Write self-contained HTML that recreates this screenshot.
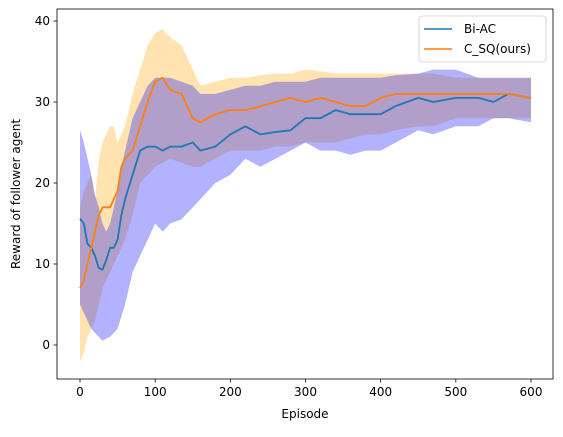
<!DOCTYPE html>
<html><head><meta charset="utf-8"><style>
body{margin:0;background:#fff;font-family:"Liberation Sans",sans-serif}
svg text{font-family:"DejaVu Sans","Liberation Sans",sans-serif;font-size:12px;fill:#000}
</style></head><body>
<svg id="chart" width="563" height="432" viewBox="0 0 563 432" xmlns="http://www.w3.org/2000/svg"></svg>
<script>
const episodes=[0,5,10,15,20,25,30,35,40,45,50,55,60,70,80,90,100,110,120,135,150,160,180,200,220,240,260,280,300,320,340,360,380,400,420,450,470,500,530,550,570,600];
const biacMean=[15.6,15,12.5,12,11,9.5,9.3,10.5,12,12,13,16,18,21,24,24.5,24.5,24,24.5,24.5,25,24,24.5,26,27,26,26.3,26.5,28,28,29,28.5,28.5,28.5,29.5,30.5,30,30.5,30.5,30,31,30.5];
const csqMean=[7,8,10,12,14,16,17,17,17,18,19,22,23,24,27,30,32.5,33,31.5,31,28,27.5,28.5,29,29,29.5,30,30.5,30,30.5,30,29.5,29.5,30.5,31,31,31,31,31,31,31,30.5];
const biacLo=[5,4,3,2,1.5,1,0.5,0.8,1,1.5,2,3.5,5,9,11,13,15,14,15,15.5,17,18,20,21,23,22,23,24,25,24,24,23.5,24,24,25,26.5,26,27,27,28,28,27.5];
const biacHi=[26.5,25,23,21,18.5,17,15,14,15,17,19,22,24,28,30,32,33,33,33,32.5,32,31,31,31.5,32,32,32.5,32.5,32.5,33,33,33,33,33,33.3,33.5,34,34,33,33,33,33];
const csqLo=[-2,-1,1,2,3,5,7,8,9,10,11,12,13,16,20,21,22,22.5,23,22.5,22,22,23,24,24,24,24.5,24.5,25,25,25,25.5,26,26,26.5,27,27,28,28,28,28,28];
const csqHi=[17,19,20,21,18,23,25,26,27,27,25,26,27,31,34,37,38.5,39,38,37,34,32,32.5,33,33,33.3,33.5,33.5,34,33.8,33.5,33.5,33.5,33.5,33.5,33.5,33.5,33,33,33,33,33];
const xTicks=[0,100,200,300,400,500,600];
const yTicks=[0,10,20,30,40];

const NS="http://www.w3.org/2000/svg";
const svg=document.getElementById('chart');
const L=57,R=553,T=9,B=379;
const xs=v=>80+v*(531-80)/600;
const ys=v=>345-v*(345-21)/40;
function mk(t,a){const e=document.createElementNS(NS,t);for(const k in a)e.setAttribute(k,a[k]);svg.appendChild(e);return e;}
function band(lo,hi,fill,name){
  let d='M'+episodes.map((x,i)=>xs(x).toFixed(1)+','+ys(hi[i]).toFixed(1)).join('L');
  for(let i=episodes.length-1;i>=0;i--)d+='L'+xs(episodes[i]).toFixed(1)+','+ys(lo[i]).toFixed(1);
  const p=mk('path',{d:d+'Z',fill:fill,'fill-opacity':0.3,stroke:'none'});
  
  
}
function line(m,col,name){
  const p=mk('polyline',{points:episodes.map((x,i)=>xs(x).toFixed(1)+','+ys(m[i]).toFixed(1)).join(' '),fill:'none',stroke:col,'stroke-width':1.8,'stroke-linejoin':'round'});
  
  
}
band(csqLo,csqHi,'#ffa500','csq-band');
band(biacLo,biacHi,'#0000ff','biac-band');
line(biacMean,'#1f77b4','biac-line');
line(csqMean,'#ff7f0e','csq-line');
const frame=mk('rect',{x:L,y:T,width:R-L,height:B-T,fill:'none',stroke:'#000','stroke-width':0.8});


xTicks.forEach(v=>{
  mk('line',{x1:xs(v),x2:xs(v),y1:B,y2:B+3.5,stroke:'#000','stroke-width':0.8});
  const t=mk('text',{x:xs(v),y:B+17,'text-anchor':'middle'});t.textContent=v;
  
  
});
yTicks.forEach(v=>{
  mk('line',{x1:L-3.5,x2:L,y1:ys(v),y2:ys(v),stroke:'#000','stroke-width':0.8});
  const t=mk('text',{x:L-7,y:ys(v)+4,'text-anchor':'end'});t.textContent=v;
  
  
});
const xt=mk('text',{x:(L+R)/2,y:418,'text-anchor':'middle'});xt.textContent='Episode';


const yt=mk('text',{x:20,y:194,'text-anchor':'middle',transform:'rotate(-90 20 194)'});yt.textContent='Reward of follower agent';


const lg=mk('rect',{x:419,y:16,width:127,height:46,rx:3,fill:'#fff','fill-opacity':0.8,stroke:'#ccc','stroke-width':0.8});


[['Bi-AC','#1f77b4',29],['C_SQ(ours)','#ff7f0e',49]].forEach(([n,c,y])=>{
  mk('line',{x1:424,x2:452,y1:y,y2:y,stroke:c,'stroke-width':1.5});
  const t=mk('text',{x:464,y:y+4});t.textContent=n;
  
  
});
</script>
</body></html>
